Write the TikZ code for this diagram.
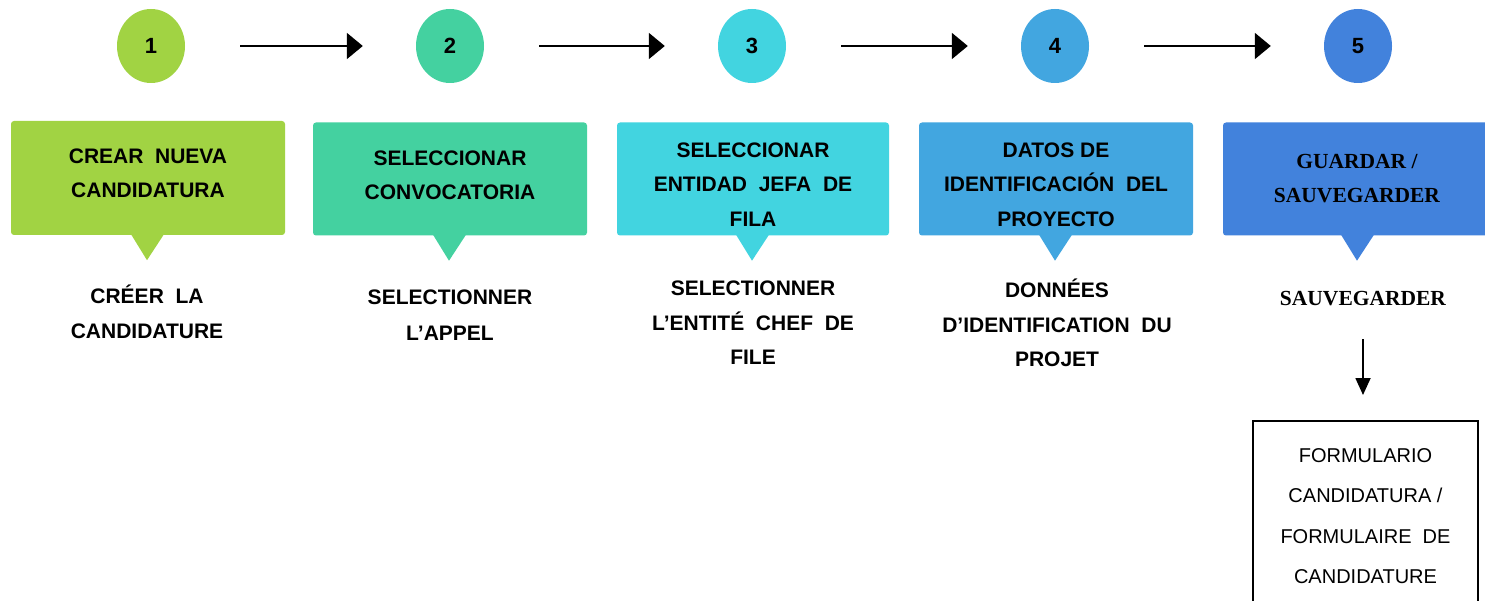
\documentclass[tikz,border=0pt]{standalone}
\usepackage{fontspec}
\setmainfont{Liberation Sans}
\newfontfamily\timesf{Liberation Serif}
\usetikzlibrary{arrows.meta,shapes.geometric}
\definecolor{cA}{HTML}{A1D343}
\definecolor{cB}{HTML}{44D1A0}
\definecolor{cC}{HTML}{42D4E0}
\definecolor{cD}{HTML}{42A6E0}
\definecolor{cE}{HTML}{4282DC}
\begin{document}
\begin{tikzpicture}[x=1pt,y=-1pt,
  numcirc/.style={ellipse,minimum width=68pt,minimum height=74pt,inner sep=0pt,
    font=\bfseries\fontsize{22}{26}\selectfont},
  bubble/.style={rectangle,rounded corners=3pt,minimum height=113pt,inner sep=0pt},
  lbl/.style={font=\bfseries\fontsize{21}{34.5}\selectfont,align=center,inner sep=3pt},
  slbl/.style={font=\timesf\bfseries\fontsize{21.5}{34.5}\selectfont,align=center,inner sep=3pt},
  flow/.style={line width=2pt,-{Triangle[length=16pt,width=26pt]},shorten <=55pt,shorten >=53pt},
  down/.style={line width=1.8pt,-{Triangle[length=17pt,width=15pt]},shorten <=30pt,shorten >=25pt},
  formbox/.style={draw,line width=1.5pt,minimum width=225pt,minimum height=191pt,
    font=\fontsize{20}{40.5}\selectfont,align=center,anchor=north}
]
\clip (0,0) rectangle (1485,601);
\fill[white] (0,0) rectangle (1485,601);

% circles
\node[numcirc,fill=cA] (c1) at (151,46) {1};
\node[numcirc,fill=cB] (c2) at (450,46) {2};
\node[numcirc,fill=cC] (c3) at (752,46) {3};
\node[numcirc,fill=cD] (c4) at (1055,46) {4};
\node[numcirc,fill=cE] (c5) at (1358,46) {5};

\draw[flow] (c1) -- (c2);
\draw[flow] (c2) -- (c3);
\draw[flow] (c3) -- (c4);
\draw[flow] (c4) -- (c5);

% bubbles
\node[bubble,fill=cA,minimum width=274pt,minimum height=114pt] (b1) at (148,178) {};
\node[bubble,fill=cB,minimum width=274pt] (b2) at (450,179) {};
\node[bubble,fill=cC,minimum width=272pt] (b3) at (753,179) {};
\node[bubble,fill=cD,minimum width=274pt] (b4) at (1056,179) {};
\node[bubble,fill=cE,minimum width=270pt] (b5) at (1358,179) {};

\foreach \b/\c in {b1/cA,b2/cB,b3/cC,b4/cD,b5/cE}{
  \fill[\c] ([xshift=-17pt,yshift=1pt]\b.south) -- ([xshift=16pt,yshift=1pt]\b.south)
    -- ([xshift=-1pt,yshift=-25pt]\b.south) -- cycle;
}

% bubble texts
\node[lbl] (t1) at (148,173.5) {CREAR\ \ NUEVA\\CANDIDATURA};
\node[lbl,font=\bfseries\fontsize{21}{34}\selectfont] (t2) at (450,175) {SELECCIONAR\\CONVOCATORIA};
\node[lbl] (t3) at (753,184.5) {SELECCIONAR\\ENTIDAD\ \ JEFA\ \ DE\\FILA};
\node[lbl] (t4) at (1056,184.5) {DATOS DE\\IDENTIFICACIÓN\ \ DEL\\PROYECTO};
\node[slbl,font=\timesf\bfseries\fontsize{21.5}{34}\selectfont] (t5) at (1357,179) {GUARDAR /\\SAUVEGARDER};

% sub labels
\node[lbl,font=\bfseries\fontsize{21}{35}\selectfont] (s1) at (147,312) {CRÉER\ \ LA\\CANDIDATURE};
\node[lbl,font=\bfseries\fontsize{21}{36}\selectfont] (s2) at (450,315) {SELECTIONNER\\L’APPEL};
\node[lbl] (s3) at (753,323) {SELECTIONNER\\L’ENTITÉ\ \ CHEF\ \ DE\\FILE};
\node[lbl] (s4) at (1057,323) {DONNÉES\\D’IDENTIFICATION\ \ DU\\PROJET};
\node[slbl] (s5) at (1363,299) {SAUVEGARDER};

% form box
\node[formbox] (form) at (1365.5,420) {FORMULARIO\\CANDIDATURA /\\FORMULAIRE\ \ DE\\CANDIDATURE};

\draw[down] (s5.south) -- (s5.south |- form.north);
\end{tikzpicture}
\end{document}
